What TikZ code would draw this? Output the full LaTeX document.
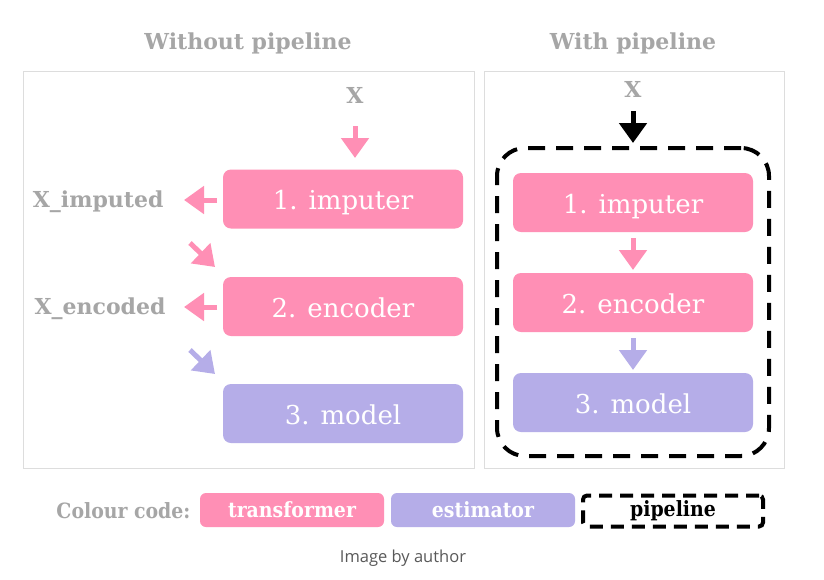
\documentclass[tikz,border=0pt]{standalone}
\usepackage{fontspec}
\setmainfont{DejaVu Serif}
\newfontfamily\condfont{DejaVu Serif Condensed}
\newfontfamily\capfont{Open Sans}
\usetikzlibrary{arrows.meta}
\definecolor{pinkc}{HTML}{FF8FB5}
\definecolor{purpc}{HTML}{B5ADE8}
\definecolor{grayt}{HTML}{A6A6A6}
\definecolor{panelc}{HTML}{DDDDDD}
\definecolor{capc}{HTML}{595959}
\begin{document}
\begin{tikzpicture}[x=1pt,y=-1pt,
 panel/.style={draw=panelc,line width=1pt,inner sep=0pt},
 title/.style={text=grayt,font=\bfseries\fontsize{22}{24}\selectfont},
 lbl/.style={text=grayt,font=\bfseries\fontsize{22}{24}\selectfont},
 stage/.style={rounded corners=8pt,minimum width=240pt,minimum height=59pt,text=white,font=\fontsize{26}{28}\selectfont,inner sep=0pt,text height=24pt,text depth=3pt},
 tr/.style={stage,fill=pinkc},
 es/.style={stage,fill=purpc},
 pipebox/.style={draw=black,line width=4pt,dash pattern=on 17pt off 11pt,rounded corners=28pt,inner sep=0pt},
 legbox/.style={rounded corners=6pt,minimum width=184pt,minimum height=34pt,inner sep=0pt,font=\condfont\bfseries\fontsize{21}{24}\selectfont},
 arr/.style={line width=5pt,-{Triangle[length=20pt,width=27pt]}},
]
\useasboundingbox[fill=white] (0,0) rectangle (824,579);

% titles
\node[title] (t1) at (248,43) {Without pipeline};
\node[title] (t2) at (633,43) {With pipeline};

% panels
\node[panel,minimum width=451pt,minimum height=397pt] (lp) at (248.5,269.5) {};
\node[panel,minimum width=300pt,minimum height=397pt] (rp) at (634,269.5) {};

% left panel
\node[lbl] (X1) at (355,95) {X};
\node[tr] (imp1) at (343,199) {1. imputer};
\node[tr] (enc1) at (343,306.5) {2. encoder};
\node[es] (mod1) at (343,413.5) {3. model};
\node[lbl,anchor=east] (Xi) at (167,201.5) {X\_imputed};
\node[lbl,anchor=east] (Xe) at (169,308.5) {X\_encoded};

\coordinate (a1s) at (355,126);
\coordinate (a1e) at (355,158);
\draw[arr,pinkc] (a1s) -- (a1e);
\coordinate (a2s) at (217,200);
\coordinate (a2e) at (184,200);
\draw[arr,pinkc] (a2s) -- (a2e);
\coordinate (a3s) at (190,243);
\coordinate (a3e) at (215,267);
\draw[arr,pinkc] (a3s) -- (a3e);
\coordinate (a4s) at (217,307);
\coordinate (a4e) at (184,307);
\draw[arr,pinkc] (a4s) -- (a4e);
\coordinate (a5s) at (190,350);
\coordinate (a5e) at (215,374);
\draw[arr,purpc] (a5s) -- (a5e);

% right panel
\node[lbl] (X2) at (633,89) {X};
\node[pipebox,minimum width=272pt,minimum height=308pt] (pipe) at (633,302) {};
\node[tr] (imp2) at (633,202.5) {1. imputer};
\node[tr] (enc2) at (633,302.5) {2. encoder};
\node[es] (mod2) at (633,402.5) {3. model};

\coordinate (b1s) at (633,111);
\coordinate (b1e) at (633,143);
\draw[arr,black] (b1s) -- (b1e);
\coordinate (b2s) at (633,238);
\coordinate (b2e) at (633,270);
\draw[arr,pinkc] (b2s) -- (b2e);
\coordinate (b3s) at (633,338);
\coordinate (b3e) at (633,370);
\draw[arr,purpc] (b3s) -- (b3e);

% legend
\node[text=grayt,font=\condfont\bfseries\fontsize{21}{24}\selectfont,anchor=east] (cc) at (194,511) {Colour code:};
\node[legbox,fill=pinkc,text=white] (lt) at (292,510) {transformer};
\node[legbox,fill=purpc,text=white] (le) at (483,510) {estimator};
\node[legbox,draw=black,line width=4pt,dash pattern=on 13pt off 8pt,rounded corners=4pt,minimum width=180pt,minimum height=31pt,text=black] (lpp) at (673,511) {pipeline};

% caption
\node[text=capc,font=\capfont\fontsize{16.5}{18}\selectfont] (cap) at (403,558) {Image by author};
\end{tikzpicture}
\end{document}
